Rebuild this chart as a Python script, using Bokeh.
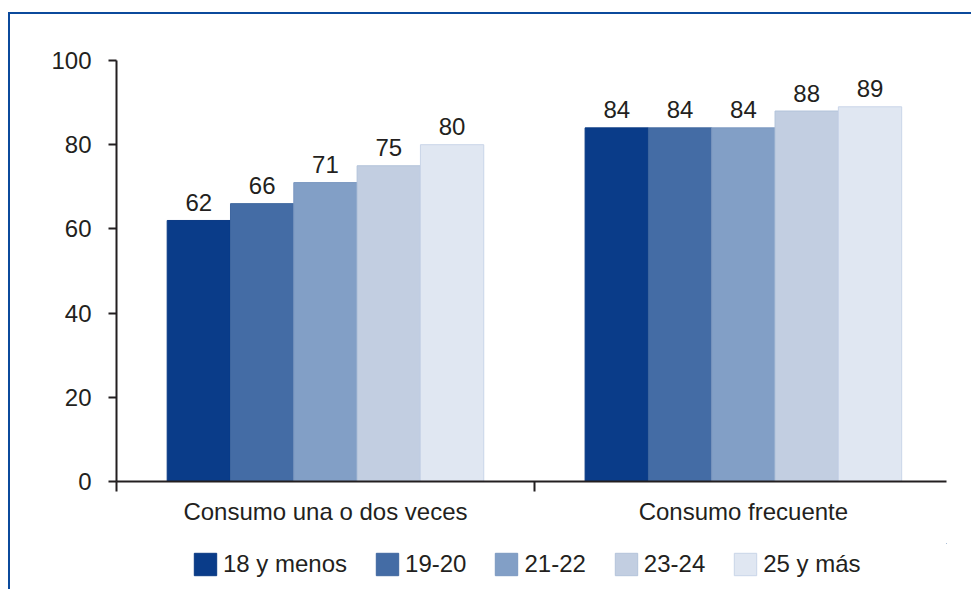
from bokeh.plotting import figure
from bokeh.layouts import column
from bokeh.models import Range1d, FixedTicker, Legend, LegendItem, ColumnDataSource
from bokeh.core.properties import value
from bokeh.embed import file_html
from bokeh.resources import INLINE

# ---- data ----
categories = ["Consumo una o dos veces", "Consumo frecuente"]
age_groups = ["18 y menos", "19-20", "21-22", "23-24", "25 y más"]
v_18_menos = [62, 84]
v_19_20 = [66, 84]
v_21_22 = [71, 84]
v_23_24 = [75, 88]
v_25_mas = [80, 89]
series = [v_18_menos, v_19_20, v_21_22, v_23_24, v_25_mas]
y_ticks = [0, 20, 40, 60, 80, 100]

# ---- style ----
colors = ["#0a3c89", "#446ca5", "#829fc6", "#c2cee1", "#e0e7f2"]
line_colors = ["#0a3a84", "#3f679f", "#7b98c0", "#b3c3da", "#c9d5e8"]
FONT = "Liberation Sans"
FS = "24px"
TXT = "#231f20"
bar_w = 0.1515
W = 961

p = figure(width=W, height=529, output_backend="svg", toolbar_location=None,
           x_range=Range1d(0, 1.986), y_range=Range1d(0, 100),
           min_border_left=106, min_border_right=25, min_border_top=46,
           min_border_bottom=62)
p.outline_line_color = None
p.xgrid.visible = False
p.ygrid.visible = False
p.background_fill_color = "white"
p.border_fill_color = "white"

# legend strip (its frame is aligned with the chart's frame by the column)
pl = figure(width=W, height=46, output_backend="svg", toolbar_location=None,
            x_range=Range1d(-10, -9), y_range=Range1d(-10, -9),
            x_axis_location=None, y_axis_location=None,
            min_border_top=0, min_border_bottom=0)
pl.outline_line_color = None
pl.xgrid.visible = False
pl.ygrid.visible = False

items = []
n = len(age_groups)
for i, (name, vals) in enumerate(zip(age_groups, series)):
    xs = [k + 0.5 + (i - (n - 1) / 2) * bar_w for k in range(len(categories))]
    src = ColumnDataSource(dict(x=xs, top=vals, lab=[str(v) for v in vals]))
    p.vbar(x="x", top="top", bottom=0, width=bar_w, source=src,
           fill_color=colors[i], line_color=line_colors[i], line_width=1)
    p.text(x="x", y="top", text="lab", source=src, text_align="center",
           text_baseline="alphabetic", y_offset=-18,
           text_font=value(FONT), text_font_size=FS, text_color=TXT)
    # same bars in the legend strip (outside its visible range), used only as legend keys
    rl = pl.vbar(x="x", top="top", bottom=0, width=bar_w, source=src,
                 fill_color=colors[i], line_color=line_colors[i], line_width=1)
    items.append(LegendItem(label=name, renderers=[rl]))

# y axis
yax = p.yaxis[0]
yax.ticker = FixedTicker(ticks=y_ticks)
yax.axis_line_color = TXT
yax.axis_line_width = 2
yax.major_tick_line_color = TXT
yax.major_tick_line_width = 2
yax.major_tick_out = 8
yax.major_tick_in = 0
yax.minor_tick_line_color = None
yax.major_label_text_font = FONT
yax.major_label_text_font_size = FS
yax.major_label_text_color = TXT
yax.major_label_standoff = 17

# x axis
xax = p.xaxis[0]
xax.ticker = FixedTicker(ticks=[k + 0.5 for k in range(len(categories))],
                         minor_ticks=list(range(len(categories))))
xax.major_label_overrides = {k + 0.5: c for k, c in enumerate(categories)}
xax.axis_line_color = TXT
xax.axis_line_width = 2
xax.major_tick_line_color = None
xax.major_tick_out = 0
xax.major_tick_in = 0
xax.minor_tick_line_color = TXT
xax.minor_tick_line_width = 2
xax.minor_tick_out = 10
xax.minor_tick_in = 0
xax.major_label_text_font = FONT
xax.major_label_text_font_size = FS
xax.major_label_text_color = TXT
xax.major_label_standoff = 6

legend = Legend(items=items, orientation="horizontal", location=(75, 11),
                glyph_width=28, glyph_height=28, label_height=22, label_standoff=4,
                spacing=26, padding=0, margin=0, border_line_color=None,
                background_fill_alpha=0, label_text_font=FONT,
                label_text_font_size=FS, label_text_color=TXT)
pl.add_layout(legend, "center")

layout = column(p, pl, spacing=0)
layout.styles = {"border-top": "2px solid #0b4a9c", "border-left": "2px solid #0b4a9c",
                 "margin-left": "8px", "margin-top": "12px"}

open("out.html", "w").write(file_html(layout, INLINE))
